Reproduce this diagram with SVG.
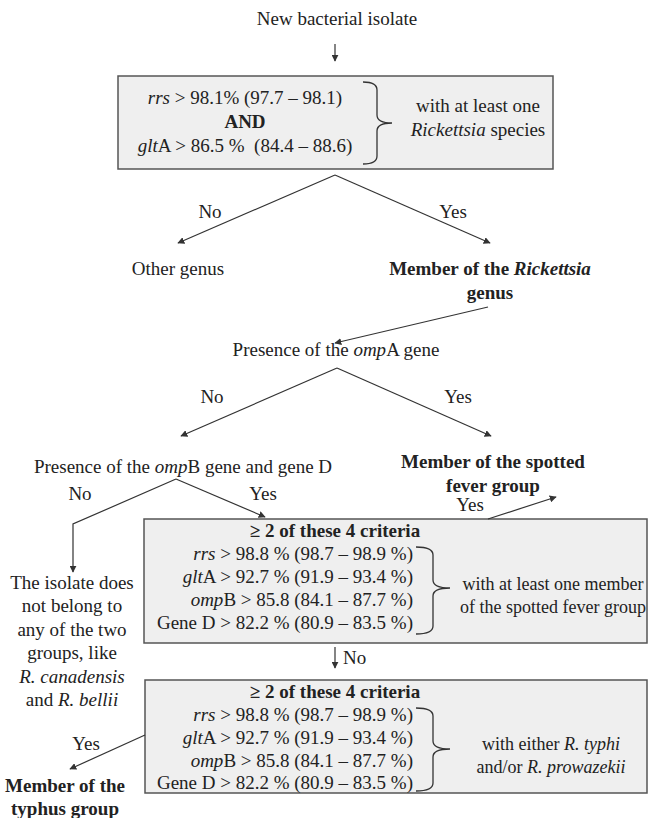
<svg xmlns="http://www.w3.org/2000/svg" width="648" height="818" viewBox="0 0 648 818">
<style>
text{font-family:"Liberation Serif","Times New Roman",serif;font-size:19px;fill:#222;}
.c{text-anchor:middle}
.e{text-anchor:end}
.b{font-weight:bold}
.i{font-style:italic}
.s{font-size:18px}
.box{fill:#efefef;stroke:#555;stroke-width:1.5}
.ln{fill:none;stroke:#333;stroke-width:1.2}
.br{fill:none;stroke:#333;stroke-width:1.3}
</style>
<defs>
<marker id="ah" viewBox="0 0 10 10" refX="9" refY="5" markerWidth="7" markerHeight="7" markerUnits="userSpaceOnUse" orient="auto">
<path d="M0,0 L10,5 L0,10 z" fill="#333"/>
</marker>
</defs>
<rect width="648" height="818" fill="#fff"/>

<g id="start"><text class="c" x="337" y="25">New bacterial isolate</text></g>

<g id="box1">
<rect class="box" x="118" y="76" width="435" height="93"/>
<text class="c" x="245" y="104"><tspan class="i">rrs</tspan> &gt; 98.1% (97.7 – 98.1)</text>
<text class="c b" x="245" y="128">AND</text>
<text class="c" x="245" y="152" xml:space="preserve"><tspan class="i">glt</tspan>A &gt; 86.5 %  (84.4 – 88.6)</text>
<path class="br" d="M363,82 Q377,82 377,90 L377,115 Q377,123 392,123 Q377,123 377,131 L377,156 Q377,164 363,164"/>
<text class="c" x="478" y="112">with at least one</text>
<text class="c" x="478" y="136"><tspan class="i">Rickettsia</tspan> species</text>
</g>

<g id="other"><text class="c" x="178" y="275">Other genus</text></g>
<g id="rickettsia">
<text class="c b" x="490" y="275">Member of the <tspan font-style="italic">Rickettsia</tspan></text>
<text class="c b" x="490" y="299">genus</text>
</g>

<g id="ompA"><text class="c" x="336" y="356">Presence of the <tspan class="i">omp</tspan>A gene</text></g>

<g id="ompB"><text class="c" x="183" y="473">Presence of the <tspan class="i">omp</tspan>B gene and gene D</text></g>

<g id="sfg">
<text class="c b" x="493" y="468">Member of the spotted</text>
<text class="c b" x="493" y="492">fever group</text>
</g>

<g id="none">
<text class="c" x="72" y="589">The isolate does</text>
<text class="c" x="72" y="612">not belong to</text>
<text class="c" x="72" y="636">any of the two</text>
<text class="c" x="72" y="659">groups, like</text>
<text class="c" x="72" y="683"><tspan class="i">R. canadensis</tspan></text>
<text class="c" x="72" y="706">and <tspan class="i">R. bellii</tspan></text>
</g>

<g id="box2">
<rect class="box" x="144" y="519" width="503" height="124"/>
<text class="c b" x="335" y="537">≥ 2 of these 4 criteria</text>
<text class="e" x="413" y="560"><tspan class="i">rrs</tspan> &gt; 98.8 % (98.7 – 98.9 %)</text>
<text class="e" x="413" y="583"><tspan class="i">glt</tspan>A &gt; 92.7 % (91.9 – 93.4 %)</text>
<text class="e" x="413" y="606"><tspan class="i">omp</tspan>B &gt; 85.8 (84.1 – 87.7 %)</text>
<text class="e" x="413" y="629">Gene D &gt; 82.2 % (80.9 – 83.5 %)</text>
<path class="br" d="M416,547 Q433,547 433,555 L433,580 Q433,588 450,588 Q433,588 433,596 L433,626 Q433,634 416,634"/>
<text class="c s" x="553" y="590">with at least one member</text>
<text class="c s" x="553" y="613">of the spotted fever group</text>
</g>

<g id="box3">
<rect class="box" x="145" y="680" width="502" height="113"/>
<text class="c b" x="335" y="698">≥ 2 of these 4 criteria</text>
<text class="e" x="413" y="721"><tspan class="i">rrs</tspan> &gt; 98.8 % (98.7 – 98.9 %)</text>
<text class="e" x="413" y="744"><tspan class="i">glt</tspan>A &gt; 92.7 % (91.9 – 93.4 %)</text>
<text class="e" x="413" y="767"><tspan class="i">omp</tspan>B &gt; 85.8 (84.1 – 87.7 %)</text>
<text class="e" x="413" y="789">Gene D &gt; 82.2 % (80.9 – 83.5 %)</text>
<path class="br" d="M416,708 Q433,708 433,716 L433,741 Q433,749 450,749 Q433,749 433,757 L433,783 Q433,791 416,791"/>
<text class="c s" x="551" y="750">with either <tspan class="i">R. typhi</tspan></text>
<text class="c s" x="551" y="773">and/or <tspan class="i">R. prowazekii</tspan></text>
</g>

<g id="typhus">
<text class="c b" x="65" y="792">Member of the</text>
<text class="c b" x="65" y="815">typhus group</text>
</g>

<g id="connectors">
<line class="ln" x1="335" y1="44" x2="335" y2="61" marker-end="url(#ah)"/>
<line class="ln" x1="335" y1="175" x2="178" y2="243" marker-end="url(#ah)"/>
<line class="ln" x1="335" y1="175" x2="490" y2="243" marker-end="url(#ah)"/>
<text class="c" x="210" y="218">No</text>
<text class="c" x="453" y="218">Yes</text>
<line class="ln" x1="488" y1="307" x2="335" y2="343" marker-end="url(#ah)"/>
<line class="ln" x1="337" y1="368" x2="181" y2="436" marker-end="url(#ah)"/>
<line class="ln" x1="337" y1="368" x2="491" y2="436" marker-end="url(#ah)"/>
<text class="c" x="212" y="403">No</text>
<text class="c" x="458" y="403">Yes</text>
<polyline class="ln" points="176,479 73,524 73,572" marker-end="url(#ah)"/>
<line class="ln" x1="176" y1="479" x2="265" y2="517" marker-end="url(#ah)"/>
<text class="c" x="80" y="500">No</text>
<text class="c" x="263" y="500">Yes</text>
<line class="ln" x1="488" y1="519" x2="556" y2="497" marker-end="url(#ah)"/>
<text class="c" x="470" y="511">Yes</text>
<line class="ln" x1="335" y1="647" x2="335" y2="668" marker-end="url(#ah)"/>
<text x="343" y="664">No</text>
<line class="ln" x1="145" y1="735" x2="70" y2="769" marker-end="url(#ah)"/>
<text class="c" x="86" y="750">Yes</text>
</g>
</svg>
